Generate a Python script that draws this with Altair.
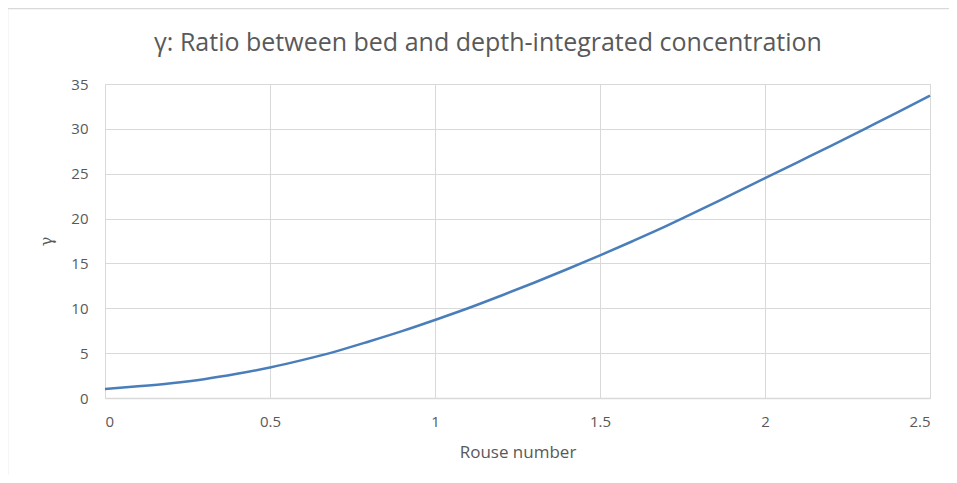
import altair as alt
import pandas as pd

rouse = [0.0, 0.1, 0.2, 0.3, 0.4, 0.5, 0.6, 0.7, 0.8, 0.9, 1.0, 1.1, 1.2, 1.3,
         1.4, 1.5, 1.6, 1.7, 1.8, 1.9, 2.0, 2.1, 2.2, 2.3, 2.4, 2.5]
gamma = [1.0, 1.3, 1.65, 2.1, 2.7, 3.4, 4.25, 5.2, 6.3, 7.45, 8.7, 10.0, 11.4, 12.85,
         14.35, 15.9, 17.5, 19.15, 20.9, 22.7, 24.5, 26.3, 28.1, 29.95, 31.8, 33.7]
x_ticks = [0, 0.5, 1, 1.5, 2, 2.5]
y_ticks = [0, 5, 10, 15, 20, 25, 30, 35]
title_text = ["γ: Ratio between bed and depth-integrated concentration"]

df = pd.DataFrame({"rouse": rouse, "gamma": gamma})
tdf = pd.DataFrame({"t": title_text})

FONT = "Open Sans"
TXT = "#595959"
GRID = "#d9d9d9"

line = alt.Chart(df).mark_line(color="#4a7ebb", strokeWidth=2.5, interpolate="monotone").encode(
    x=alt.X("rouse:Q",
            scale=alt.Scale(domain=[0, 2.5], nice=False),
            axis=alt.Axis(values=x_ticks, format="~g", title="Rouse number",
                          grid=True, gridColor=GRID, gridWidth=1,
                          domain=True, domainColor=GRID, domainWidth=1.5,
                          ticks=False, labelPadding=16, labelFontSize=15,
                          labelColor=TXT, labelFont=FONT,
                          titleFont=FONT, titleFontSize=17, titleFontWeight="normal",
                          titleColor=TXT, titlePadding=15)),
    y=alt.Y("gamma:Q",
            scale=alt.Scale(domain=[0, 35], nice=False),
            axis=alt.Axis(values=y_ticks, title="γ",
                          grid=True, gridColor=GRID, gridWidth=1,
                          domain=False, ticks=False, labelPadding=17,
                          labelFontSize=15, labelColor=TXT, labelFont=FONT,
                          titleFont="DejaVu Serif", titleFontSize=16, titleFontWeight="normal",
                          titleColor=TXT, titlePadding=16)),
)

border_left = alt.Chart(tdf).mark_rule(stroke="#d9d9d9", strokeWidth=1.5).encode(
    x=alt.value(-97.5), y=alt.value(-76), y2=alt.value(420)
)
border_top = alt.Chart(tdf).mark_rule(stroke="#d9d9d9", strokeWidth=1.5).encode(
    x=alt.value(-98), x2=alt.value(880), y=alt.value(-75.5)
)

title = alt.Chart(tdf).mark_text(
    font=FONT, fontSize=25, color=TXT, align="center", baseline="alphabetic"
).encode(text="t:N", x=alt.value(383), y=alt.value(-33))

chart = alt.layer(border_left, border_top, line, title).properties(
    width=825,
    height=314,
    autosize=alt.AutoSizeParams(type="none"),
    padding={"left": 97, "top": 76, "right": 19, "bottom": 77},
).configure_view(stroke=None).configure(background="white")

chart.save("out.html", embed_options={"renderer": "svg", "actions": False})
